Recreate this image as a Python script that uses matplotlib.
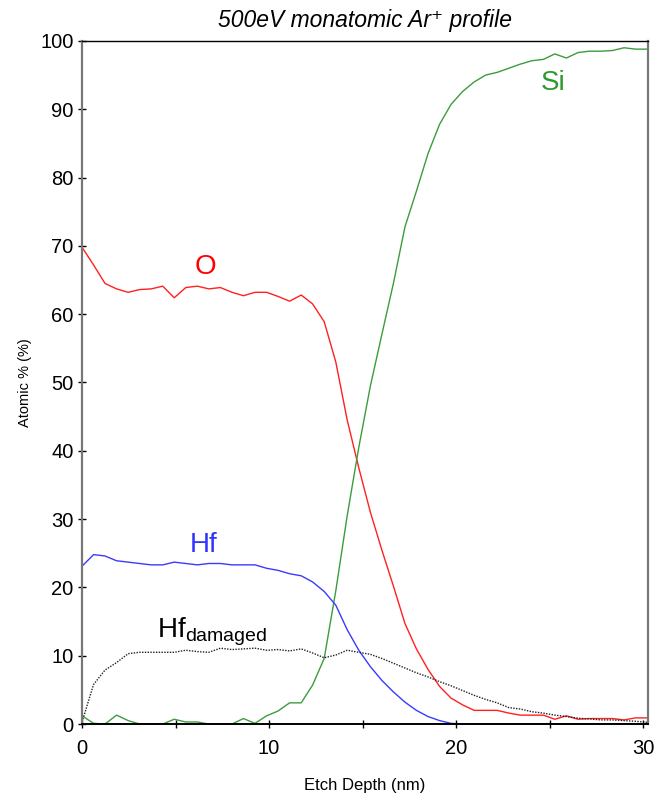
import matplotlib
matplotlib.use("Agg")
import matplotlib.pyplot as plt

plt.rcParams['font.family'] = ['Liberation Sans', 'DejaVu Sans']

# Etch depth (nm) for each profile step
depth = [0.00, 0.62, 1.23, 1.85, 2.47, 3.08, 3.70, 4.32, 4.93, 5.55,
         6.17, 6.78, 7.40, 8.02, 8.63, 9.25, 9.87, 10.48, 11.10, 11.72,
         12.33, 12.95, 13.57, 14.18, 14.80, 15.42, 16.03, 16.65, 17.27, 17.88,
         18.50, 19.12, 19.73, 20.35, 20.97, 21.58, 22.20, 22.82, 23.43, 24.05,
         24.67, 25.28, 25.90, 26.52, 27.13, 27.75, 28.37, 28.98, 29.60, 30.22]

oxygen = [69.8, 67.2, 64.5, 63.7, 63.2, 63.6, 63.7, 64.1, 62.4, 63.9,
          64.1, 63.7, 63.9, 63.2, 62.7, 63.2, 63.2, 62.6, 61.9, 62.8,
          61.5, 58.9, 53.0, 44.5, 37.5, 31.0, 25.5, 20.2, 14.7, 11.0,
          8.0, 5.5, 3.8, 2.8, 2.0, 2.0, 2.0, 1.6, 1.3, 1.3,
          1.3, 0.7, 1.2, 0.7, 0.8, 0.8, 0.8, 0.6, 0.9, 0.9]

silicon = [1.2, 0.1, 0.0, 1.3, 0.5, 0.0, 0.0, 0.0, 0.7, 0.3,
           0.3, 0.0, 0.0, 0.0, 0.8, 0.1, 1.2, 1.9, 3.1, 3.1,
           5.7, 9.6, 19.5, 30.5, 40.5, 49.5, 57.0, 64.5, 72.8, 78.0,
           83.5, 87.8, 90.7, 92.6, 94.0, 95.0, 95.4, 96.0, 96.6, 97.1,
           97.3, 98.1, 97.5, 98.3, 98.5, 98.5, 98.6, 99.0, 98.8, 98.8]

hafnium = [23.1, 24.8, 24.6, 23.9, 23.7, 23.5, 23.3, 23.3, 23.7, 23.5,
           23.3, 23.5, 23.5, 23.3, 23.3, 23.3, 22.8, 22.5, 22.0, 21.7,
           20.8, 19.4, 17.4, 13.8, 10.8, 8.4, 6.4, 4.7, 3.2, 2.0,
           1.1, 0.5, 0.1, 0.0, 0.0, 0.0, 0.0, 0.0, 0.0, 0.0,
           0.0, 0.0, 0.0, 0.0, 0.0, 0.0, 0.0, 0.0, 0.0, 0.0]

hf_damaged = [0.3, 5.8, 7.9, 9.0, 10.3, 10.5, 10.5, 10.5, 10.5, 10.8,
              10.6, 10.5, 11.1, 10.9, 11.0, 11.1, 10.8, 10.9, 10.7, 11.0,
              10.4, 9.7, 10.1, 10.8, 10.5, 10.2, 9.6, 8.9, 8.2, 7.5,
              6.9, 6.2, 5.6, 4.9, 4.2, 3.6, 3.1, 2.4, 2.2, 1.8,
              1.6, 1.3, 1.1, 0.85, 0.75, 0.6, 0.6, 0.5, 0.4, 0.25]

fig = plt.figure(figsize=(6.56, 7.98), dpi=100)
ax = fig.add_axes([0.125, 0.0927, 0.863, 0.856])

ax.plot(depth, oxygen, color="#ff2020", lw=1.0)
ax.plot(depth, silicon, color="#3c9c3c", lw=1.0)
ax.plot(depth, hafnium, color="#3a3aff", lw=1.0)
ax.plot(depth, hf_damaged, color="#202020", lw=1.0, linestyle=(0, (1, 1)))

# curve labels
ax.text(6.58, 66.9, "O", color="#ff0000", fontsize=20, ha="center", va="center")
ax.text(25.2, 93.9, "Si", color="#2e9a2e", fontsize=20, ha="center", va="center")
ax.text(6.52, 26.2, "Hf", color="#3333ff", fontsize=20, ha="center", va="center")
ax.text(4.0, 13.5, r"Hf$_{\mathregular{damaged}}$", color="black", fontsize=20,
        ha="left", va="center")

ax.set_xlim(0, 30.27)
ax.set_ylim(0, 100)
ax.set_xticks([0, 5, 10, 15, 20, 25, 30])
ax.set_xticklabels(["0", "", "10", "", "20", "", "30"], fontsize=14.5)
ax.set_yticks(range(0, 101, 10))
ax.set_yticklabels([str(v) for v in range(0, 101, 10)], fontsize=14.5)
ax.tick_params(direction="inout", length=6, width=1, pad=3)
ax.tick_params(axis="x", pad=8)

for side in ["left", "right"]:
    ax.spines[side].set_color("#777777")
    ax.spines[side].set_linewidth(1.6)
ax.spines["top"].set_linewidth(1.0)
ax.spines["bottom"].set_linewidth(1.4)

ax.set_xlabel("Etch Depth (nm)", fontsize=12, labelpad=14)
ax.set_ylabel("Atomic % (%)", fontsize=10.5, labelpad=6)
ax.set_title("500eV monatomic Ar⁺ profile", fontsize=16.5, style="italic", pad=10)

fig.savefig("out.png", dpi=100)
